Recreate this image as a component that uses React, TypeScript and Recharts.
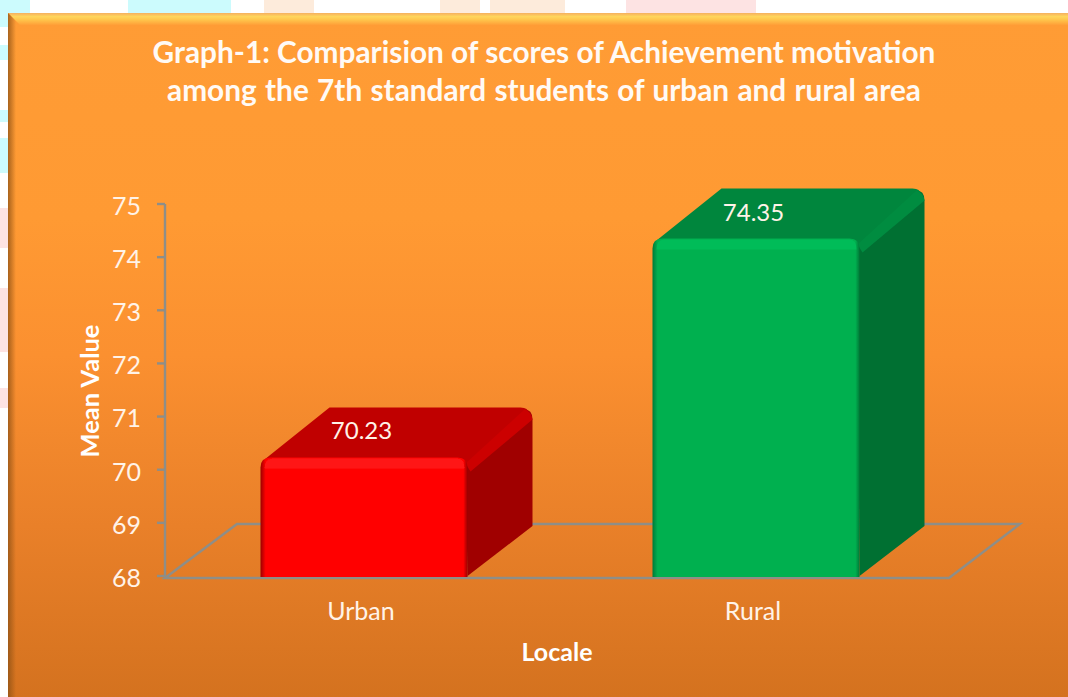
import React from "react";
import { BarChart, Bar, XAxis, YAxis, LabelList, Label, Cell, usePlotArea } from "recharts";

const locales = ["Urban", "Rural"];
const meanValues = [70.23, 74.35];
const yTicks = [68, 69, 70, 71, 72, 73, 74, 75];
const titleLines = [
  "Graph-1: Comparision  of scores of Achievement motivation",
  "among the 7th standard students of urban and rural area",
];

const chartData = locales.map((locale, i) => ({ locale, mean: meanValues[i] }));

const barColors = [
  { id: "red", front: "#ff0000", edge: "#ff1c1c", dark: "#9c0000", top: "#c00000", side: "#a00000", ridge: "#cc0000" },
  { id: "green", front: "#00b050", edge: "#06c25c", dark: "#007a38", top: "#00863d", side: "#006f33", ridge: "#008c40" },
];

// bits of the page showing round the slide: [left, top, width, height, colour]
const CYAN = "#ccfbfd";
const PEACH = "#fdebdb";
const PINK = "#fde3e3";
const pageScraps: [number, number, number, number, string][] = [
  [0, 0, 30, 13, CYAN],
  [128, 0, 103, 13, CYAN],
  [264, 0, 50, 13, PEACH],
  [440, 0, 40, 13, PEACH],
  [490, 0, 75, 13, PEACH],
  [626, 0, 130, 13, PINK],
  [0, 13, 8, 14, CYAN],
  [0, 45, 8, 15, CYAN],
  [0, 110, 8, 12, CYAN],
  [0, 138, 8, 35, CYAN],
  [0, 208, 8, 40, PINK],
  [0, 288, 8, 64, PINK],
  [0, 388, 8, 20, PINK],
];

const AXIS_COLOR = "#8e8e88";
const TEXT_COLOR = "#fff3e8";
const FONT = "Lato, Carlito, sans-serif";
const DEPTH_X = 65;
const DEPTH_Y = 50;

// 3d floor of the chart, drawn from the plot area
function Floor() {
  const plot = usePlotArea();
  if (!plot) return null;
  const left = plot.x;
  const right = plot.x + plot.width;
  const bottom = plot.y + plot.height + 2;
  const points = [
    [left, bottom],
    [left + 72, bottom - 54],
    [right + 71, bottom - 54],
    [right, bottom],
  ];
  return (
    <polygon
      points={points.map((p) => p.join(",")).join(" ")}
      fill="none"
      stroke={AXIS_COLOR}
      strokeWidth={2.4}
    />
  );
}

function Box3D(props: any) {
  const { x, y, width, height, index } = props;
  const c = barColors[index];
  const l = x + 2.5;
  const r = l + width;
  const b = y + height;
  const rad = 10;
  return (
    <g filter="url(#soft)">
      {/* side */}
      <path
        d={`M${r - 2},${y + 4} L${r + DEPTH_X - 12},${y - DEPTH_Y + 2} Q${r + DEPTH_X},${y - DEPTH_Y} ${r + DEPTH_X},${y - DEPTH_Y + 12} L${r + DEPTH_X},${b - DEPTH_Y} L${r},${b} Z`}
        fill={c.side}
      />
      {/* top */}
      <path
        d={`M${l + 4},${y + 2} L${l + DEPTH_X + 4},${y - DEPTH_Y} L${r + DEPTH_X - 12},${y - DEPTH_Y} Q${r + DEPTH_X - 3},${y - DEPTH_Y} ${r + DEPTH_X - 4},${y - DEPTH_Y + 8} L${r},${y + 6} Z`}
        fill={c.top}
      />
      {/* lighter ridge between top and side */}
      <path
        d={`M${r - 2},${y + 6} L${r + DEPTH_X - 8},${y - DEPTH_Y + 2} Q${r + DEPTH_X - 1},${y - DEPTH_Y + 4} ${r + DEPTH_X},${y - DEPTH_Y + 12} L${r + 3},${y + 14} Z`}
        fill={c.ridge}
      />
      {/* front */}
      <path
        d={`M${l},${b + 1} L${l},${y + rad} Q${l},${y} ${l + rad},${y} L${r - rad},${y} Q${r},${y} ${r},${y + rad} L${r},${b + 1} Z`}
        fill={`url(#front-${c.id})`}
      />
      <path
        d={`M${l + 4},${y + 11} Q${l + 4},${y + 1} ${l + 12},${y + 1} L${r - 10},${y + 1} Q${r - 3},${y + 1} ${r - 3},${y + 11} Z`}
        fill={c.edge}
        opacity={0.7}
      />
    </g>
  );
}

export default function App() {
  return (
    <div style={{ position: "absolute", left: 0, top: 0, width: 1068, height: 697, overflow: "hidden", background: "#ffffff" }}>
      {/* page behind the slide */}
      {pageScraps.map(([left, top, width, height, color], i) => (
        <div key={i} style={{ position: "absolute", left, top, width, height, background: color }} />
      ))}

      {/* slide panel */}
      <div
        style={{
          position: "absolute",
          left: 8,
          top: 13,
          width: 1060,
          height: 684,
          background: "linear-gradient(#ff9c35 0%, #ff9a33 30%, #fb9030 50%, #e98029 75%, #d4721f 100%)",
        }}
      />
      <div style={{ position: "absolute", left: 8, top: 13, width: 1060, height: 12, background: "linear-gradient(#f5b060, #ffd65c 30%, #ffc24a 60%, #ff9f38)", clipPath: "polygon(0 0, 100% 0, 100% 100%, 12px 100%)" }} />
      <div style={{ position: "absolute", left: 8, top: 13, width: 8, height: 684, background: "linear-gradient(90deg, rgba(140,80,20,0.75), rgba(160,90,20,0))", clipPath: "polygon(0 0, 100% 8px, 100% 100%, 0 100%)" }} />

      <div style={{ position: "absolute", left: 0, top: 0 }}>
        <BarChart
          width={1068}
          height={697}
          data={chartData}
          margin={{ top: 204, right: 119, bottom: 0, left: 0 }}
          barCategoryGap={0}
        >
          <defs>
            <filter id="soft" x="-5%" y="-5%" width="110%" height="110%">
              <feGaussianBlur stdDeviation="0.6" />
            </filter>
            {barColors.map((c) => (
              <linearGradient key={c.id} id={`front-${c.id}`} x1="0" y1="0" x2="1" y2="0">
                <stop offset="0" stopColor={c.dark} />
                <stop offset="0.025" stopColor={c.front} />
                <stop offset="0.98" stopColor={c.front} />
                <stop offset="1" stopColor={c.dark} />
              </linearGradient>
            ))}
          </defs>
          <Floor />
          <XAxis
            dataKey="locale"
            height={121}
            axisLine={false}
            tickLine={false}
            tickMargin={20}
            tick={{ fill: TEXT_COLOR, fontSize: 25, fontFamily: FONT }}
          >
            <Label
              value="Locale"
              position="insideTop"
              offset={67}
              style={{ fill: "#ffffff", fontSize: 25, fontWeight: 700, fontFamily: FONT }}
            />
          </XAxis>
          <YAxis
            type="number"
            domain={[68, 75]}
            ticks={yTicks}
            width={165}
            interval={0}
            axisLine={{ stroke: AXIS_COLOR, strokeWidth: 2.4 }}
            tickLine={{ stroke: AXIS_COLOR, strokeWidth: 2.4 }}
            tickSize={8}
            tickMargin={16}
            tick={{ fill: TEXT_COLOR, fontSize: 25, fontFamily: FONT, dy: 2 }}
          >
            <Label
              value="Mean Value"
              angle={-90}
              position="center"
              dx={7}
              dy={1}
              style={{ fill: "#ffffff", fontSize: 25.5, fontWeight: 700, fontFamily: FONT, textAnchor: "middle" }}
            />
          </YAxis>
          <Bar dataKey="mean" barSize={207} shape={<Box3D />} isAnimationActive={false}>
            {chartData.map((d) => (
              <Cell key={d.locale} />
            ))}
            <LabelList
              dataKey="mean"
              position="top"
              offset={18}
              style={{ fill: TEXT_COLOR, fontSize: 24, fontFamily: FONT }}
            />
          </Bar>
          <text x={544} textAnchor="middle" fill="#fffaf5" fontFamily={FONT} fontWeight={700} fontSize={29.8}>
            {titleLines.map((line, i) => (
              <tspan key={i} x={544} y={63 + i * 38} style={{ wordSpacing: i === 1 ? 1 : 0 }}>
                {line}
              </tspan>
            ))}
          </text>
        </BarChart>
      </div>
    </div>
  );
}
